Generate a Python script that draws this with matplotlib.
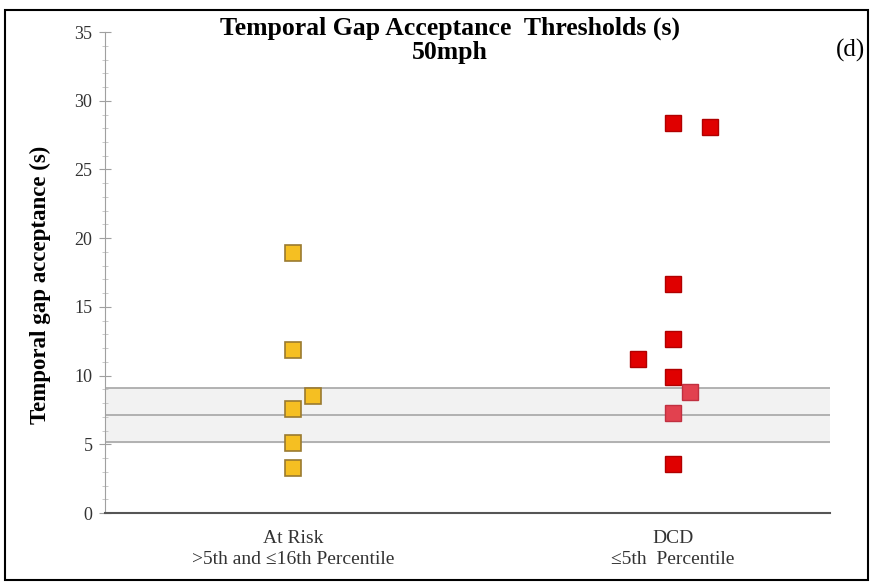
import matplotlib.pyplot as plt
from matplotlib.patches import Rectangle
from matplotlib.ticker import MultipleLocator

plt.rcParams['font.family'] = ['Liberation Serif', 'DejaVu Serif']

categories = ['At Risk\n>5th and \u226416th Percentile', 'DCD\n\u22645th  Percentile']

# at risk group (x offset from category centre, value)
risk_x = [0.0, 0.0, 0.0, 0.053, 0.0, 0.0]
risk_y = [18.9, 11.85, 7.55, 8.5, 5.1, 3.25]

# DCD group
dcd_x = [0.0, 0.097, 0.0, 0.0, -0.092, 0.0, 0.045, 0.0, 0.0]
dcd_y = [28.4, 28.1, 16.7, 12.7, 11.2, 9.9, 8.8, 7.3, 3.6]
dcd_light = [False, False, False, False, False, False, True, True, False]

band_low, band_mid, band_high = 5.15, 7.1, 9.1

fig = plt.figure(figsize=(8.71, 5.83), dpi=100)
ax = fig.add_axes([0.1205, 0.12, 0.832, 0.825])

ax.axhspan(band_low, band_high, color='#f2f2f2', zorder=0)
for v in (band_low, band_mid, band_high):
    ax.axhline(v, color='#a6a6a6', lw=1.2, zorder=1)

ax.plot([1 + d for d in risk_x], risk_y, 's', ms=12, mfc='#f5bf22',
        mec='#9a7a30', mew=1.2, ls='none', zorder=3)
for dx, v, light in zip(dcd_x, dcd_y, dcd_light):
    fc = '#e2414f' if light else '#e00000'
    ec = '#c03040' if light else '#b00000'
    ax.plot(2 + dx, v, 's', ms=12, mfc=fc, mec=ec, mew=1.0, zorder=3)

ax.set_xlim(0.505, 2.413)
ax.set_ylim(0, 35)
ax.yaxis.set_major_locator(MultipleLocator(5))
ax.yaxis.set_minor_locator(MultipleLocator(1))
ax.set_xticks([1, 2])
ax.set_xticklabels(categories, fontsize=14, color='#333333', linespacing=1.3)
ax.tick_params(axis='x', length=0, pad=12)
ax.tick_params(axis='y', which='major', direction='inout', length=8,
               color='#a0a0a0', labelsize=13, labelcolor='#333333', pad=5)
ax.tick_params(axis='y', which='minor', direction='inout', length=4,
               color='#c0c0c0')
for s in ('top', 'right'):
    ax.spines[s].set_visible(False)
ax.spines['left'].set_color('#a0a0a0')
ax.spines['bottom'].set_color('#555555')
ax.spines['bottom'].set_linewidth(1.5)

ax.set_ylabel('Temporal gap acceptance (s)', fontsize=16.5, fontweight='bold')
ax.yaxis.set_label_coords(-0.075, 0.475)

fig.text(0.517, 1 - 28 / 583, 'Temporal Gap Acceptance  Thresholds (s)',
         ha='center', va='center', fontsize=18.5, fontweight='bold')
fig.text(0.517, 1 - 52 / 583, '50mph',
         ha='center', va='center', fontsize=18.5, fontweight='bold')
fig.text(850 / 871, 1 - 50 / 583, '(d)', ha='center', va='center', fontsize=18)

fig.patches.append(Rectangle((0.006, 0.006), 0.99, 0.976, transform=fig.transFigure,
                             fill=False, ec='black', lw=1.5))

fig.savefig('out.png', dpi=100)
